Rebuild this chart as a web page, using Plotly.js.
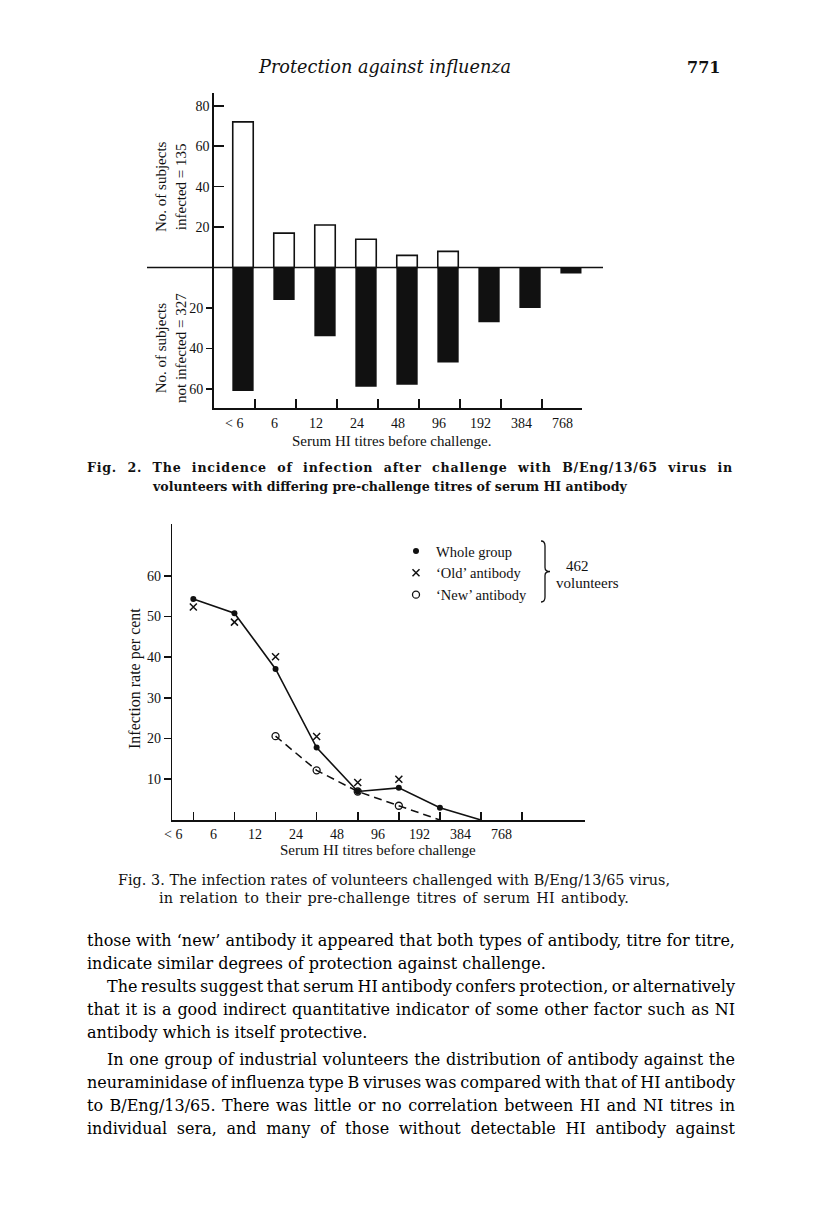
<!DOCTYPE html>
<html><head><meta charset="utf-8">
<script src="https://cdn.plot.ly/plotly-3.0.1.min.js"></script>
<style>html,body{margin:0;padding:0;background:#fff}</style>
</head><body><div id="chart" style="width:816px;height:1224px"></div>
<script>
// ---------- Fig. 2 data ----------
const titreCats = ["< 6","6","12","24","48","96","192","384","768"];
const infected = [72, 17, 21, 14, 6, 8, null, null, null];
const notInfected = [61, 16, 34, 59, 58, 47, 27, 20, 3];
const fig2YTicks = [20, 40, 60, 80];

// ---------- Fig. 3 data ----------
const rateCats = ["< 6","6","12","24","48","96","192","384","768"];
const wholeGroup = [54.3, 50.8, 37.1, 17.8, 7.0, 7.9, 3.0, 0, null];
const oldAntibody = [52.3, 48.6, 40.1, 20.5, 9.2, 10.0, null, null, null];
const newAntibody = [null, null, 20.6, 12.2, 7.0, 3.5, 0, null, null];
const fig3YTicks = [10, 20, 30, 40, 50, 60];

// ---------- page text ----------
const header = "Protection against influenza";
const pageNo = "771";
const cap2 = ["Fig. 2. The incidence of infection after challenge with B/Eng/13/65 virus in",
              "volunteers with differing pre-challenge titres of serum HI antibody"];
const cap3 = ["Fig. 3. The infection rates of volunteers challenged with B/Eng/13/65 virus,",
              "in relation to their pre-challenge titres of serum HI antibody."];
const bodyLines = [
  "those with \u2018new\u2019 antibody it appeared that both types of antibody, titre for titre,",
  "indicate similar degrees of protection against challenge.",
  "The results suggest that serum HI antibody confers protection, or alternatively",
  "that it is a good indirect quantitative indicator of some other factor such as NI",
  "antibody which is itself protective.",
  "In one group of industrial volunteers the distribution of antibody against the",
  "neuraminidase of influenza type B viruses was compared with that of HI antibody",
  "to B/Eng/13/65. There was little or no correlation between HI and NI titres in",
  "individual sera, and many of those without detectable HI antibody against"
];
const bodyIndent = [false,false,true,false,false,true,false,false,false];
const bodyFull = [true,false,true,true,false,true,true,true,true];

// ---------- geometry helpers (page pixels -> paper) ----------
const W = 816, H = 1224;
const px = x => x / W;
const py = y => 1 - y / H;
const serif = "Liberation Serif, Times New Roman, serif";
const book = "DejaVu Serif, serif";
const ink = "#111";

const idx = titreCats.map((c, i) => i);
const idx3 = rateCats.map((c, i) => i + 0.5);
const nz = arr => arr.map(v => (v === 0 ? null : v));

const traces = [
  {type: "bar", x: idx, y: infected, xaxis: "x", yaxis: "y", width: 0.5,
   marker: {color: "#fff", line: {color: ink, width: 1.6}}, showlegend: false, hoverinfo: "none"},
  {type: "bar", x: idx, y: notInfected.map(v => -v), xaxis: "x", yaxis: "y2", width: 0.52,
   marker: {color: ink, line: {color: ink, width: 0}}, showlegend: false, hoverinfo: "none"},
  // Fig 3
  {type: "scatter", mode: "lines", x: idx3, y: newAntibody, xaxis: "x3", yaxis: "y3",
   line: {color: ink, width: 1.5, dash: "8px,5px"}, showlegend: false, hoverinfo: "none"},
  {type: "scatter", mode: "lines", x: idx3, y: wholeGroup, xaxis: "x3", yaxis: "y3",
   line: {color: ink, width: 1.6}, showlegend: false, hoverinfo: "none"},
  {type: "scatter", mode: "markers", name: "Whole group", x: idx3, y: nz(wholeGroup), xaxis: "x3", yaxis: "y3",
   marker: {symbol: "circle", size: 6, color: ink}, hoverinfo: "none"},
  {type: "scatter", mode: "markers", name: "\u2018Old\u2019 antibody", x: idx3, y: oldAntibody, xaxis: "x3", yaxis: "y3",
   marker: {symbol: "x-thin-open", size: 7, color: ink, line: {color: ink, width: 1.5}}, hoverinfo: "none"},
  {type: "scatter", mode: "markers", name: "\u2018New\u2019 antibody", x: idx3, y: nz(newAntibody), xaxis: "x3", yaxis: "y3",
   marker: {symbol: "circle-open", size: 7, color: ink, line: {color: ink, width: 1.3}}, hoverinfo: "none"}
];

const tickFont = {family: serif, size: 14, color: ink};
const axLine = {showline: true, linecolor: ink, linewidth: 1.6, zeroline: false, showgrid: false, fixedrange: true};

const annotations = [];
const justify = [];   // [annotation index, target width px, mode]
function addText(text, x, y, opts) {
  annotations.push(Object.assign({text: text, x: px(x), y: py(y), xref: "paper", yref: "paper",
    showarrow: false, xanchor: "center", yanchor: "middle", font: {family: serif, size: 15, color: ink}}, opts || {}));
  return annotations.length - 1;
}

// header
addText(header, 384.5, 67, {font: {family: book, size: 17.7, color: ink, style: "italic"}});
addText(pageNo, 703.5, 67, {font: {family: book, size: 16, color: ink, weight: "bold"}});

// Fig 2 labels
titreCats.forEach((c, i) => {
  annotations.push({text: c, x: i - 0.22, xref: "x", y: py(423), yref: "paper", showarrow: false,
    xanchor: "center", yanchor: "middle", font: tickFont});
});
addText("Serum HI titres before challenge.", 392, 441);
addText("No. of subjects<br>infected = 135", 171, 187, {textangle: -90});
addText("No. of subjects<br>not infected = 327", 171, 348, {textangle: -90});

// Fig 2 caption
const capFont2 = {family: book, size: 12.6, color: ink, weight: "bold"};
justify.push([addText(cap2[0], 85, 468, {xanchor: "left", align: "left", font: capFont2}), 646, "mix"]);
addText(cap2[1], 150, 487, {xanchor: "left", align: "left", font: capFont2});

// Fig 3 labels
rateCats.forEach((c, i) => {
  annotations.push({text: c, x: i, xref: "x3", y: py(834), yref: "paper", showarrow: false,
    xanchor: "center", yanchor: "middle", font: tickFont});
});
addText("Serum HI titres before challenge", 377.5, 850);
addText("Infection rate per cent", 135, 679, {textangle: -90, font: {family: serif, size: 16, color: ink}});
addText("462", 577, 566);
addText("volunteers", 587, 583);

// Fig 3 caption
const capFont3 = {family: book, size: 14.4, color: ink};
justify.push([addText(cap3[0], 116, 880, {xanchor: "left", align: "left", font: capFont3}), 552, "words"]);
justify.push([addText(cap3[1], 157, 898, {xanchor: "left", align: "left", font: capFont3}), 470, "mix"]);

// body
const bodyY = [940, 963, 986, 1009, 1032, 1059, 1082, 1105, 1128];
bodyLines.forEach((t, i) => {
  const x0 = bodyIndent[i] ? 105 : 85;
  const k = addText(t, x0, bodyY[i], {xanchor: "left", align: "left", font: {family: book, size: 16, color: "#000"}});
  if (bodyFull[i]) justify.push([k, 733 - x0, "words"]);
});

// brace for legend
const bx = 545, by0 = 541, by1 = 602, bm = 571.5;
const bracePath = `M ${px(bx-4)} ${py(by0)} Q ${px(bx)} ${py(by0)} ${px(bx)} ${py(by0+5)} L ${px(bx)} ${py(bm-4)} Q ${px(bx)} ${py(bm)} ${px(bx+5)} ${py(bm)} Q ${px(bx)} ${py(bm)} ${px(bx)} ${py(bm+4)} L ${px(bx)} ${py(by1-5)} Q ${px(bx)} ${py(by1)} ${px(bx-4)} ${py(by1)}`;

const layout = {
  width: W, height: H, margin: {l: 0, r: 0, t: 0, b: 0},
  paper_bgcolor: "#fff", plot_bgcolor: "rgba(0,0,0,0)",
  barmode: "overlay", showlegend: true,
  legend: {x: px(396), y: py(535), xanchor: "left", yanchor: "top", bgcolor: "rgba(0,0,0,0)",
           font: {family: serif, size: 14.5, color: ink}, itemwidth: 30, tracegroupgap: 0},
  xaxis: Object.assign({}, axLine, {domain: [px(214), px(581.7)], range: [-0.707, 8.26], anchor: "y",
    tickmode: "array", tickvals: idx.slice(0, -1).map(i => i + 0.29), ticks: "inside", ticklen: 9,
    tickwidth: 1.6, tickcolor: ink, showticklabels: false}),
  yaxis: Object.assign({}, axLine, {domain: [py(408.3), py(93)], range: [-69.6, 86.3], anchor: "x",
    tickmode: "array", tickvals: fig2YTicks, ticktext: fig2YTicks.map(String), ticks: "inside", ticklen: 10,
    tickwidth: 1.6, tickcolor: ink, tickfont: tickFont}),
  yaxis2: Object.assign({}, axLine, {domain: [py(408.3), py(93)], range: [-69.6, 86.3], anchor: "x",
    overlaying: "y", side: "left", showline: false,
    tickmode: "array", tickvals: fig2YTicks.slice(0, 3).map(v => -v), ticktext: fig2YTicks.slice(0, 3).map(String),
    ticks: "outside", ticklen: 7, tickwidth: 1.6, tickcolor: ink, tickfont: tickFont}),
  xaxis3: Object.assign({}, axLine, {domain: [px(172.3), px(585)], range: [-0.012, 10.03], anchor: "y3",
    tickmode: "array", tickvals: idx3, ticks: "inside", ticklen: 8, tickwidth: 1.6, tickcolor: ink,
    showticklabels: false}),
  yaxis3: Object.assign({}, axLine, {domain: [py(820), py(524)], range: [0, 72.7], anchor: "x3",
    tickmode: "array", tickvals: fig3YTicks, ticktext: fig3YTicks.map(String), ticks: "outside", ticklen: 7,
    tickwidth: 1.6, tickcolor: ink, tickfont: tickFont}),
  shapes: [
    {type: "line", xref: "paper", yref: "y", x0: px(147), x1: px(603), y0: 0, y1: 0,
     line: {color: ink, width: 1.6}},
    {type: "path", xref: "paper", yref: "paper", path: bracePath, line: {color: ink, width: 1.3}}
  ],
  annotations: annotations
};

Plotly.newPlot("chart", traces, layout, {staticPlot: true, displayModeBar: false}).then(gd => {
  // justify full-width text lines (word spacing, optionally with some letter spacing)
  justify.forEach(([k, target, mode]) => {
    const t = gd.querySelector('.annotation[data-index="' + k + '"] text.annotation-text');
    if (!t) return;
    const txt = t.textContent;
    const spaces = (txt.match(/ /g) || []).length;
    let nat = t.getComputedTextLength();
    if (mode === "mix") {
      const letters = txt.length - 1;
      const extra = target - nat;
      t.style.letterSpacing = (extra * 0.5 / letters).toFixed(3) + "px";
      nat = t.getComputedTextLength();
    }
    if (spaces) t.style.wordSpacing = ((target - nat) / spaces).toFixed(2) + "px";
  });
});
</script>
</body></html>
